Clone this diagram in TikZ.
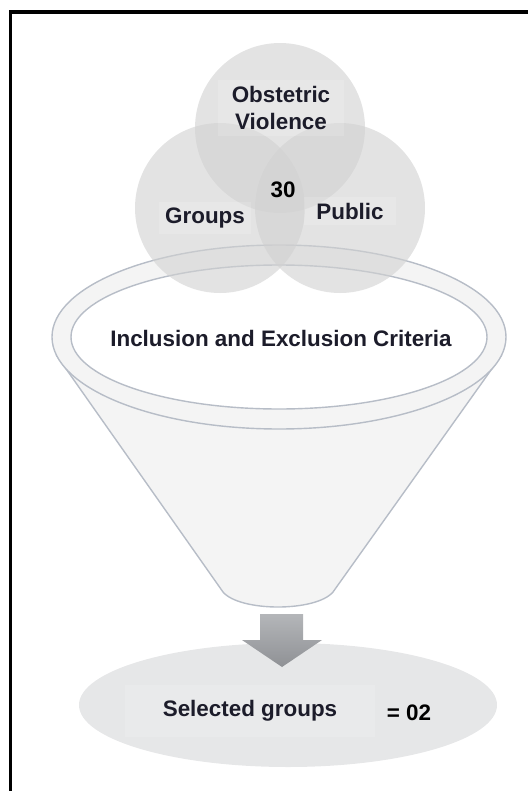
\documentclass[tikz,border=0pt]{standalone}
\usepackage{fontspec}
\setmainfont{Liberation Sans}
\usetikzlibrary{positioning}
\definecolor{funnelfill}{HTML}{F4F4F4}
\definecolor{funnelline}{HTML}{B7BDC7}
\definecolor{vennfill}{HTML}{D1D1D1}
\definecolor{resultfill}{HTML}{E6E7E8}
\definecolor{txtdark}{HTML}{1C1C2A}
\definecolor{arrowtop}{HTML}{B4B6B9}
\definecolor{arrowbot}{HTML}{8F9195}

\begin{document}
\begin{tikzpicture}[x=1bp, y=-1bp,
    venn/.style={fill=vennfill, fill opacity=0.6},
    funnel/.style={fill=funnelfill, draw=funnelline, line width=1.4bp},
    lbl/.style={font=\bfseries\fontsize{22.5}{28}\selectfont, text=txtdark, fill=white, fill opacity=0.15, text opacity=1, inner xsep=6bp, inner ysep=6bp, align=center}]
    \useasboundingbox (0,0) rectangle (528,791);

    % Frame
    \draw[line width=3.5bp] (10.5,791) -- (10.5,12) -- (528,12);

    % Funnel
    \draw[funnel] (57,356) -- (223,592) .. controls (240,612) and (316,612) .. (333,592) -- (501,356) -- cycle;
    \draw[funnel] (279,337) ellipse [x radius=227, y radius=92];
    \draw[funnel, fill=white] (279,337) ellipse [x radius=208, y radius=72];

    % Venn circles
    \fill[venn] (280,128) circle [radius=85];
    \fill[venn] (220,208) circle [radius=85];
    \fill[venn] (340,208) circle [radius=85];

    \node[lbl, inner xsep=14bp] (obst) at (281,108) {Obstetric\\Violence};
    \node[lbl] (grp) at (205,218) {Groups};
    \node[lbl, inner xsep=12bp] (pub) at (350,211) {Public};
    \node[lbl, fill=none, text=black] (count) at (283,190) {30};
    \node[lbl, fill=none] (crit) at (281,338) {Inclusion and Exclusion Criteria};

    % Result
    \fill[resultfill] (288,705) ellipse [x radius=209, y radius=62];
    \node[lbl, minimum width=250bp, minimum height=52bp] (sel) at (250,711) {Selected groups};
    \node[lbl, fill=none, text=black] (num) at (409,713) {= 02};

    % Arrow
    \shade[top color=arrowtop, bottom color=arrowbot] (260,614) -- (303,614) -- (303,640) -- (322,640) -- (282,667) -- (242,640) -- (260,640) -- cycle;
\end{tikzpicture}
\end{document}
